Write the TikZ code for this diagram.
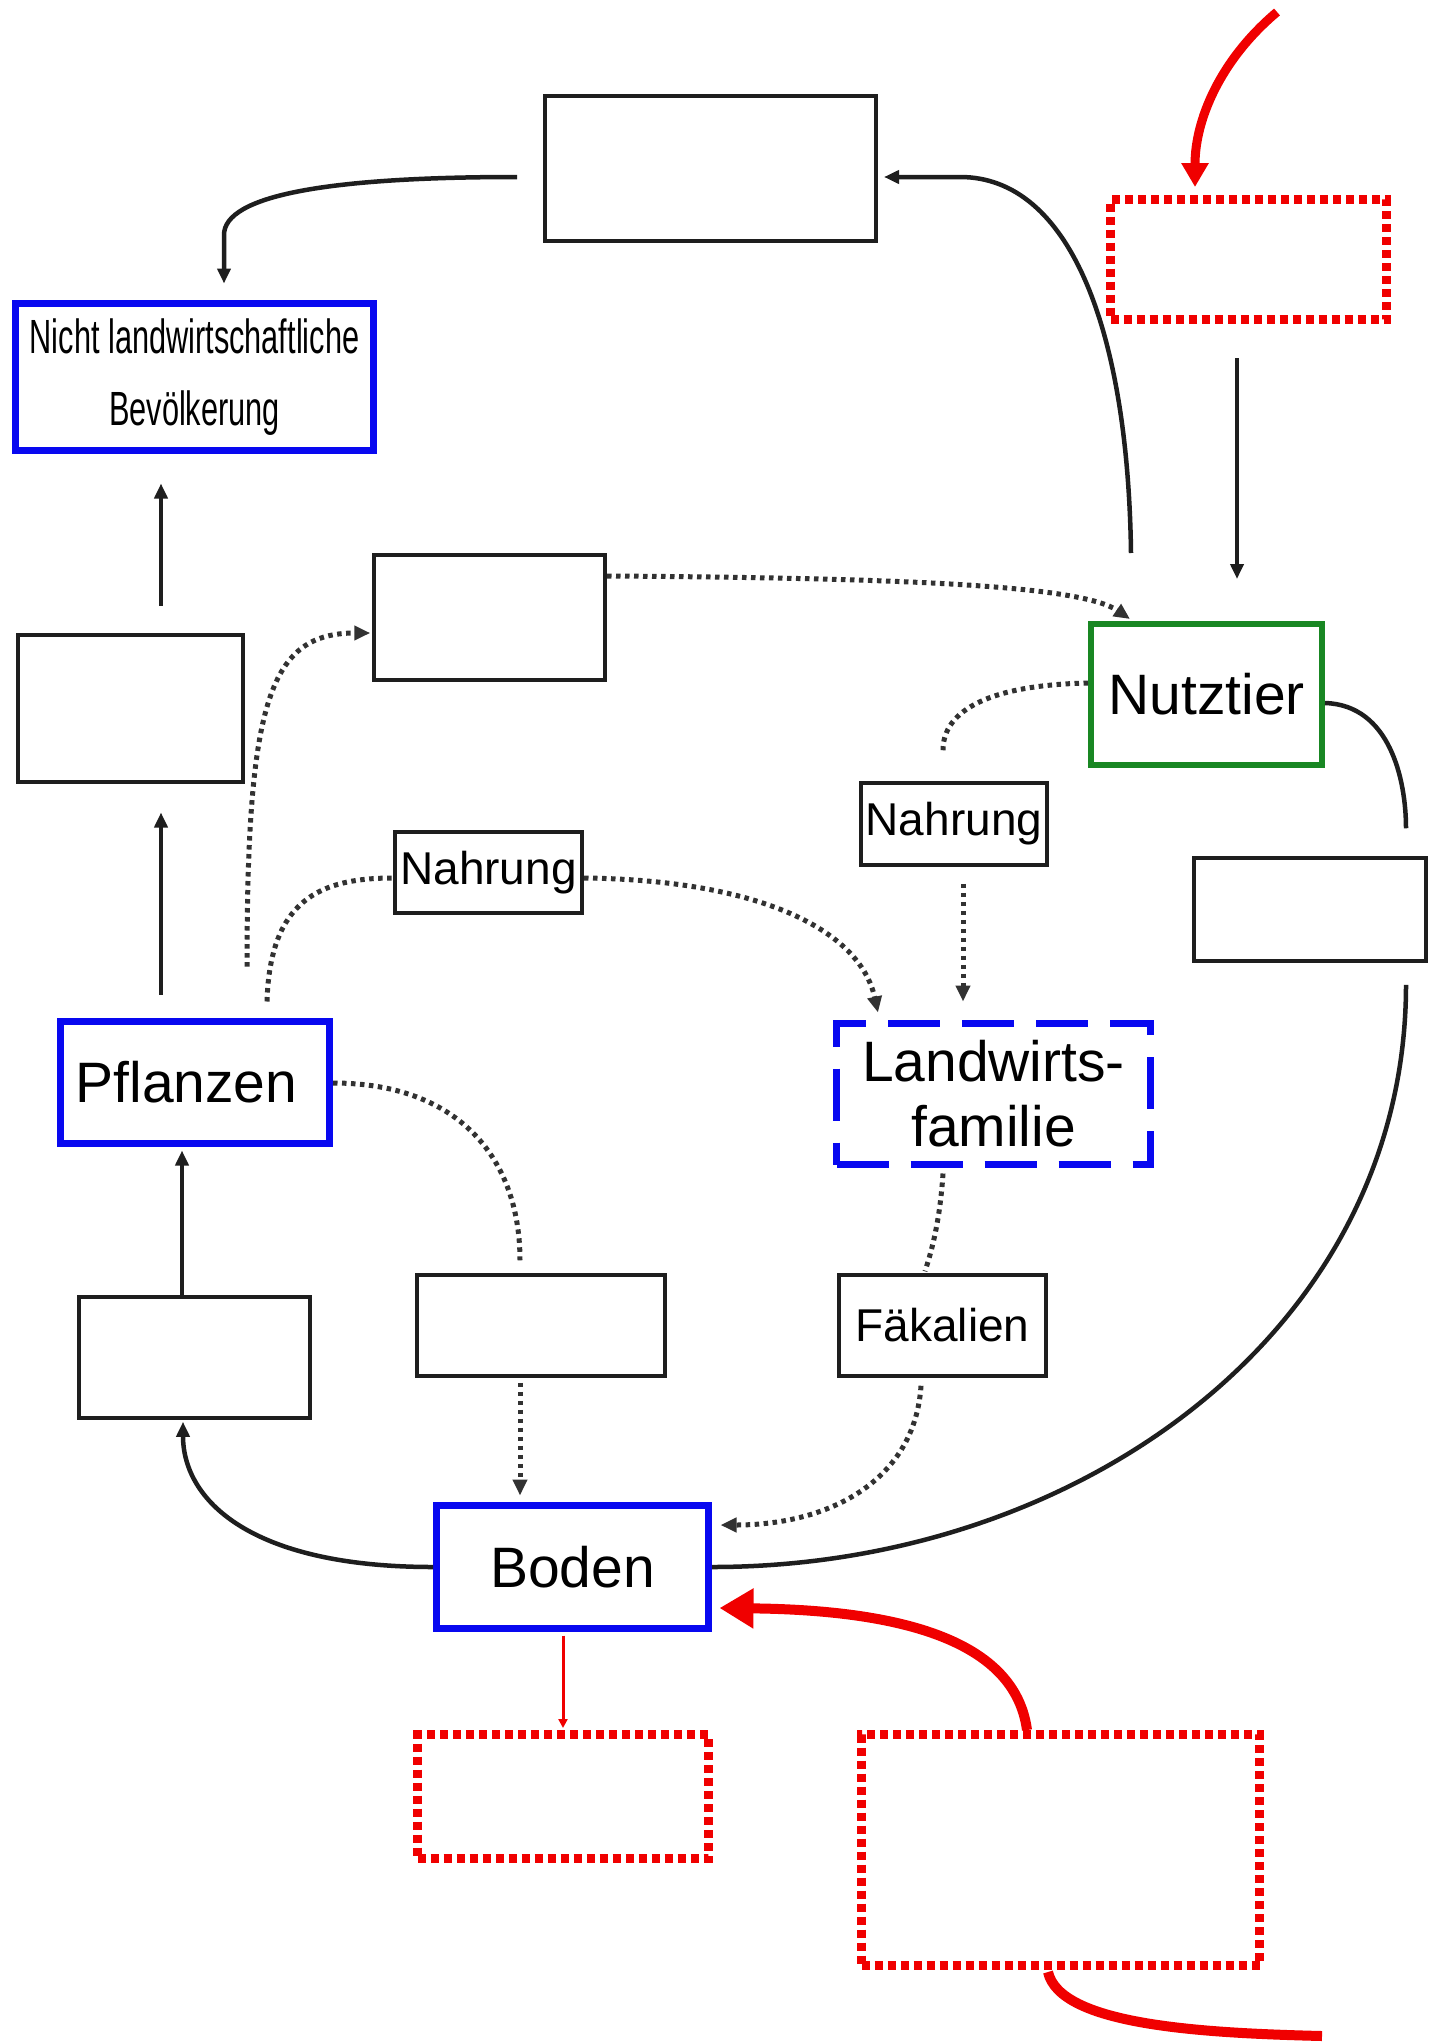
\documentclass[tikz,border=0pt]{standalone}
\usepackage{fontspec}
\usepackage{graphicx}
\setmainfont{Liberation Sans}
\usetikzlibrary{arrows.meta,calc}
\definecolor{mblue}{RGB}{8,8,240}
\definecolor{mgreen}{RGB}{25,135,35}
\definecolor{mred}{RGB}{240,0,0}
\definecolor{mline}{RGB}{30,30,30}
\definecolor{mdot}{RGB}{50,50,50}
\begin{document}
\begin{tikzpicture}[x=1pt,y=-1pt,
  box/.style={rectangle, draw=mline, line width=4pt, inner sep=0pt, fill=white, align=center},
  bluebox/.style={box, draw=mblue, line width=7pt},
  bluedash/.style={bluebox, dash pattern=on 52pt off 22pt},
  greenbox/.style={box, draw=mgreen, line width=6pt},
  redbox/.style={box, draw=mred, line width=9pt, dash pattern=on 8pt off 5pt},
  bigfont/.style={font=\fontsize{57}{65}\selectfont},
  midfont/.style={font=\fontsize{46}{55}\selectfont},
  solidline/.style={draw=mline, line width=4.5pt},
  solidarr/.style={solidline, -{Triangle[length=15pt,width=13pt]}},
  dotline/.style={draw=mdot, line width=5pt, dash pattern=on 4.5pt off 4.5pt},
  dotarr/.style={dotline, -{Triangle[length=16pt,width=14pt]}},
  redthick/.style={draw=mred, line width=9pt},
]
\fill[white] (0,0) rectangle (1431,2042);
\useasboundingbox (0,0) rectangle (1431,2042);

% nodes
\node[box, minimum width=331.5pt, minimum height=145.5pt] (topbox) at (710.5,168.5) {};
\node[redbox, minimum width=276pt, minimum height=120pt] (redtop) at (1248.5,259.5) {};
\node[bluebox, minimum width=358pt, minimum height=147pt, font=\fontsize{48}{72}\selectfont] (nlb) at (194.5,377)
  {\scalebox{0.64}[1]{Nicht landwirtschaftliche}\\\scalebox{0.64}[1]{Bevölkerung}};
\node[box, minimum width=231pt, minimum height=125pt] (midbox) at (489.5,617.5) {};
\node[box, minimum width=225pt, minimum height=147pt] (leftbox) at (130.5,708) {};
\node[greenbox, bigfont, minimum width=231pt, minimum height=141pt] (nutztier) at (1206.5,694.5) {Nutztier};
\node[box, midfont, minimum width=186pt, minimum height=82pt] (nahrungR) at (954,824) {Nahrung};
\node[box, minimum width=232pt, minimum height=103pt] (rightbox) at (1310,909.5) {};
\node[box, midfont, minimum width=187pt, minimum height=81pt] (nahrungM) at (488.5,872.5) {Nahrung};
\node[bluebox, bigfont, minimum width=269pt, minimum height=122pt] (pflanzen) at (195,1082.5) {\hspace*{-17pt}Pflanzen};
\node[bluedash, bigfont, minimum width=314pt, minimum height=141pt] (lf) at (993.5,1094) {Landwirts-\\familie};
\node[box, minimum width=231pt, minimum height=121pt] (blbox) at (194.5,1357.5) {};
\node[box, minimum width=248pt, minimum height=101pt] (bmbox) at (541,1325.5) {};
\node[box, midfont, minimum width=207pt, minimum height=101pt] (fak) at (942.5,1325.5) {Fäkalien};
\node[bluebox, bigfont, minimum width=272pt, minimum height=123pt] (boden) at (572.5,1567) {Boden};
\node[redbox, minimum width=291pt, minimum height=124pt] (redsmall) at (563,1796.5) {};
\node[redbox, minimum width=398pt, minimum height=231pt] (redbig) at (1060.5,1850) {};

\coordinate (rs1) at (1277,12);
\coordinate (re4) at (1322,2036);

% solid connectors
\draw[solidarr] ([shift={(-25.75,8.5)}]topbox.west) .. controls (330,177) and (224,195) .. (224,235) -- ([shift={(29.5,-16.5)}]nlb.north);
\draw[solidarr] ([shift={(-75.5,-68)}]nutztier.north) .. controls (1128,330) and (1070,177) .. (960,177) -- ([shift={(5.75,8.5)}]topbox.east);
\draw[solidarr] ([shift={(-11.5,34)}]redtop.south) -- ([shift={(30.5,-42)}]nutztier.north);
\draw[solidarr] ([shift={(30.5,-27)}]leftbox.north) -- ([shift={(-33.5,29.5)}]nlb.south);
\draw[solidarr] ([shift={(-34,-23.5)}]pflanzen.north) -- ([shift={(30.5,29)}]leftbox.south);
\draw[solidarr] ([shift={(-12.5,0)}]blbox.north) -- ([shift={(-13,3.5)}]pflanzen.south);
\draw[solidarr] (boden.west) .. controls (250,1567) and (183,1500) .. ([shift={(-11.5,1.75)}]blbox.south);
\draw[solidline] ([shift={(0,8.5)}]nutztier.east) .. controls (1390,705) and (1406,780) .. ([shift={(96,-27.75)}]rightbox.north);
\draw[solidline] ([shift={(96,21.75)}]rightbox.south) .. controls (1406,1330) and (1080,1567) .. (boden.east);

% dotted connectors
\draw[dotarr] ([shift={(52,-51.5)}]pflanzen.north) .. controls (247,700) and (270,633) .. ([shift={(-1.75,15.5)}]midbox.west);
\draw[dotline] ([shift={(72,-16.5)}]pflanzen.north) .. controls (270,900) and (320,878) .. ([shift={(0,5.5)}]nahrungM.west);
\draw[dotarr] ([shift={(0,5.5)}]nahrungM.east) .. controls (760,880) and (860,930) .. ([shift={(-115.5,-7.5)}]lf.north);
\draw[dotline] ([shift={(0,-11.5)}]nutztier.west) .. controls (990,685) and (943,710) .. ([shift={(-11,-30.75)}]nahrungR.north);
\draw[dotarr] ([shift={(9,16.75)}]nahrungR.south) -- ([shift={(-30.5,-18.5)}]lf.north);
\draw[dotarr] ([shift={(0,-41.5)}]midbox.east) .. controls (900,578) and (1080,585) .. ([shift={(-76.5,-2)}]nutztier.north);
\draw[dotline] ([shift={(0,0.5)}]pflanzen.east) .. controls (460,1083) and (520,1160) .. ([shift={(-21,-12.75)}]bmbox.north);
\draw[dotarr] ([shift={(-21,4.75)}]bmbox.south) -- ([shift={(-52.5,-6.5)}]boden.north);
\draw[dotline] ([shift={(-50.5,5.5)}]lf.south) .. controls (940,1220) and (932,1250) .. ([shift={(-17.5,-1.75)}]fak.north);
\draw[dotarr] ([shift={(-21.5,7.75)}]fak.south) .. controls (915,1480) and (830,1525) .. ([shift={(8.5,-42)}]boden.east);

% red connectors
\draw[redthick, line width=9pt, -{Triangle[length=24pt,width=26pt]}] (rs1) .. controls (1220,60) and (1195,120) .. ([shift={(-53.5,-8)}]redtop.north);
\draw[draw=mred, line width=3pt, -{Triangle[length=9pt,width=9pt]}] ([shift={(-9.5,3.5)}]boden.south) -- ([shift={(0,-2)}]redsmall.north);
\draw[redthick, line width=10pt, -{Triangle[length=34pt,width=38pt]}] ([shift={(-33.5,0)}]redbig.north) .. controls (1015,1640) and (900,1610) .. ([shift={(7.5,41)}]boden.east);
\draw[redthick, line width=10pt] ([shift={(-12.5,2)}]redbig.south) .. controls (1060,2025) and (1200,2033) .. (re4);
\end{tikzpicture}
\end{document}
